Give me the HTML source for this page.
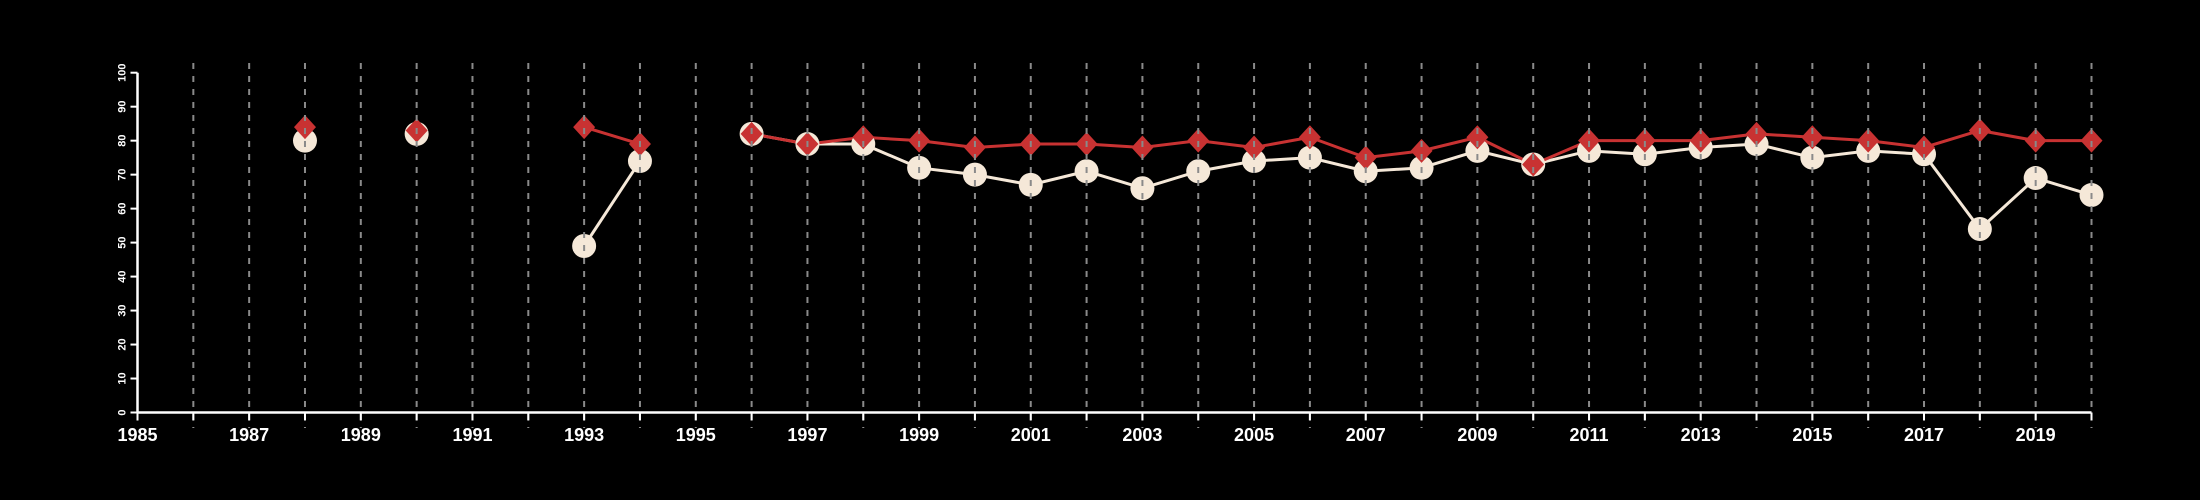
<!DOCTYPE html>
<html><head><meta charset="utf-8"><style>
html,body{margin:0;padding:0;background:#000;}
svg{display:block;}
text{font-family:"Liberation Sans",sans-serif;fill:#fff;}
</style></head><body>
<svg id="chart" width="2200" height="500" viewBox="0 0 2200 500" xmlns="http://www.w3.org/2000/svg">
<g id="grid"></g>
<g id="series"></g>
<g id="gridTop"></g>
<g id="axes"></g>
</svg>
<script>
const years = [1988,1989,1990,1991,1992,1993,1994,1995,1996,1997,1998,1999,2000,2001,2002,2003,2004,2005,2006,2007,2008,2009,2010,2011,2012,2013,2014,2015,2016,2017,2018,2019,2020];
const whiteSeries = [80,null,82,null,null,49,74,null,82,79,79,72,70,67,71,66,71,74,75,71,72,77,73,77,76,78,79,75,77,76,54,69,64];
const redSeries = [84,null,83,null,null,84,79,null,82,79,81,80,78,79,79,78,80,78,81,75,77,81,73,80,80,80,82,81,80,78,83,80,80];
const yTicks = [0,10,20,30,40,50,60,70,80,90,100];
const xLabels = [1985,1987,1989,1991,1993,1995,1997,1999,2001,2003,2005,2007,2009,2011,2013,2015,2017,2019];

const NS="http://www.w3.org/2000/svg";
const X0=137.5, X1=2091.5, Y0=412.5, Y100=72.7;
function xs(y){return X0+(y-1985)*(X1-X0)/35;}
function ys(v){return Y0-(v)*(Y0-Y100)/100;}
function mk(tag,attrs,parent){const e=document.createElementNS(NS,tag);for(const k in attrs)e.setAttribute(k,attrs[k]);parent.appendChild(e);return e;}

const grid=document.getElementById('grid'), series=document.getElementById('series'), gridTop=document.getElementById('gridTop'), axes=document.getElementById('axes');

for(let yr=1986;yr<=2020;yr++){
  const l=mk('line',{x1:xs(yr),x2:xs(yr),y1:63,y2:428,stroke:'#8a8a8a','stroke-width':2,'stroke-dasharray':'6,7'},gridTop);
  
  
}

function drawSeries(vals,color,name){
  let seg=[];
  const segs=[];
  for(let i=0;i<years.length;i++){
    if(vals[i]===null){if(seg.length)segs.push(seg);seg=[];}
    else seg.push([xs(years[i]),ys(vals[i])]);
  }
  if(seg.length)segs.push(seg);
  segs.forEach((s,j)=>{
    if(s.length<2)return;
    const p=mk('polyline',{points:s.map(q=>q.join(',')).join(' '),fill:'none',stroke:color,'stroke-width':3},series);
    
    
  });
}
drawSeries(whiteSeries,'#f5e8d8','white-series');
drawSeries(redSeries,'#c83232','red-series');

for(let i=0;i<years.length;i++){
  if(whiteSeries[i]===null)continue;
  const c=mk('circle',{cx:xs(years[i]),cy:ys(whiteSeries[i]),r:12,fill:'#f5e8d8'},series);
  
  
}
for(let i=0;i<years.length;i++){
  if(redSeries[i]===null)continue;
  const x=xs(years[i]),y=ys(redSeries[i]);
  const d=mk('polygon',{points:`${x},${y-12} ${x+11},${y} ${x},${y+12} ${x-11},${y}`,fill:'#c83232'},series);
  
  
}

const xa=mk('line',{x1:X0,x2:X1,y1:Y0,y2:Y0,stroke:'#fff','stroke-width':2.5},axes);


const ya=mk('line',{x1:X0,x2:X0,y1:Y0,y2:Y100,stroke:'#fff','stroke-width':2.5},axes);


for(let yr=1985;yr<=2020;yr++){
  const t=mk('line',{x1:xs(yr),x2:xs(yr),y1:Y0,y2:Y0+8,stroke:'#fff','stroke-width':2},axes);
  
  
}
xLabels.forEach(v=>{
  const t=mk('text',{x:xs(v),y:441,'text-anchor':'middle','font-size':18,'font-weight':'bold'},axes);
  t.textContent=v;
  
  
});
yTicks.forEach(v=>{
  const t=mk('line',{x1:X0-7,x2:X0,y1:ys(v),y2:ys(v),stroke:'#fff','stroke-width':2},axes);
  
  
  const y=ys(v);
  const l=mk('text',{x:0,y:0,'text-anchor':'middle','font-size':11,'font-weight':'bold',transform:`translate(${X0-12},${y}) rotate(-90)`},axes);
  l.textContent=v;
  
  
});
</script>
</body></html>
